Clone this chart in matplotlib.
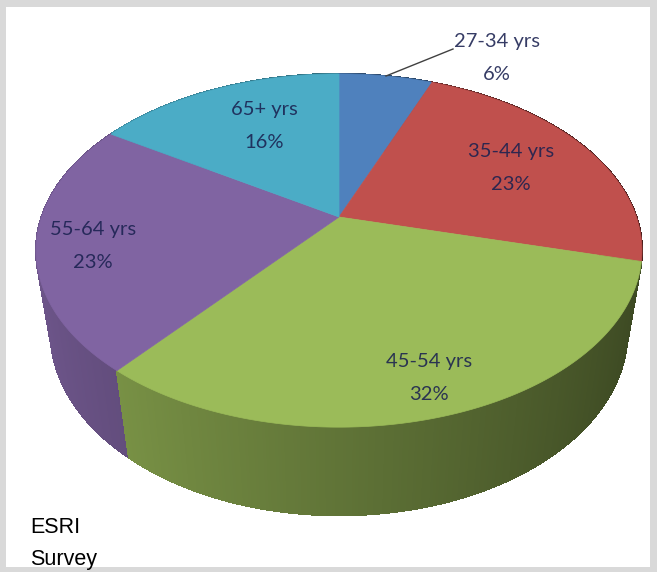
#Carga de paquetes
import numpy as np
import matplotlib.pyplot as plt
from matplotlib.patches import Rectangle, Polygon
from matplotlib.collections import PolyCollection
from matplotlib.colors import to_rgb

#Datos
groups = ["27-34 yrs", "35-44 yrs", "45-54 yrs", "55-64 yrs", "65+ yrs"]
shares = [6, 23, 32, 23, 16]
colors = ["#4F81BD", "#C0504D", "#9BBB59", "#8064A2", "#4BACC6"]

W, H = 657, 572
fig = plt.figure(figsize=(W/100, H/100), dpi=100)
fig.patch.set_facecolor('#d9d9d9')
ax = fig.add_axes([0, 0, 1, 1])
ax.set_xlim(0, W)
ax.set_ylim(H, 0)
ax.axis('off')
ax.add_patch(Rectangle((6, 7), 644, 560, fc='white', ec='none', zorder=0))

# camara en perspectiva (pie 3D tipo Excel)
alpha = np.radians(35.5)
D = 4.29
fx, fy = 1276, 1258
cx, cy = 339, 217
depth = 0.36

def proj(phi, z=0.0):
    X, Y = np.cos(phi), np.sin(phi)
    yc = Y*np.sin(alpha) + z*np.cos(alpha)
    zc = D + Y*np.cos(alpha) - z*np.sin(alpha)
    return cx + fx*X/zc, cy - fy*yc/zc

fr = np.array(shares) / sum(shares)
edges = np.pi/2 - 2*np.pi*np.concatenate([[0], np.cumsum(fr)])

# caras laterales
quads, qcols, keys = [], [], []
for i in range(len(shares)):
    a0, a1 = edges[i], edges[i+1]
    n = max(2, int(abs(a1 - a0) / np.radians(0.5)))
    ph = np.linspace(a0, a1, n + 1)
    base = np.array(to_rgb(colors[i]))
    for a, b in zip(ph[:-1], ph[1:]):
        m = 0.5*(a + b)
        k = 0.62 - 0.24*np.cos(m)
        quads.append([proj(a), proj(b), proj(b, -depth), proj(a, -depth)])
        qcols.append(np.clip(base*k, 0, 1))
        keys.append(np.sin(m))
order = np.argsort(keys)[::-1]
quads = [quads[j] for j in order]
qcols = [qcols[j] for j in order]
ax.add_collection(PolyCollection(quads, facecolors=qcols, edgecolors=qcols,
                                 linewidths=0.8, antialiased=False, zorder=2))

# cara superior
for i in range(len(shares)):
    ph = np.linspace(edges[i], edges[i+1], 200)
    pts = [(cx, cy)] + [proj(p) for p in ph]
    ax.add_patch(Polygon(pts, closed=True, fc=colors[i], ec=colors[i],
                         lw=0.5, zorder=3))

# etiquetas
label_pos = [(497, 42), (511, 152), (429, 361), (93, 230), (264, 109)]
tc = '#1a2150'
for g, s, (x, y) in zip(groups, shares, label_pos):
    ax.text(x, y, g, ha='center', va='center', fontsize=14.5, family='Lato',
            color=tc, alpha=0.88, zorder=5)
    ax.text(x, y + 33, f"{s}%", ha='center', va='center', fontsize=14.5,
            family='Lato', color=tc, alpha=0.88, zorder=5)

# linea guia 27-34
mid = 0.5*(edges[0] + edges[1])
px, py = proj(mid)
ax.plot([px, 453], [py, 49], color='#404040', lw=1.0, zorder=4)

ax.text(30, 533, "ESRI", fontsize=15.5, family='Liberation Sans',
        color='black', va='baseline', zorder=6)
ax.text(30, 565, "Survey", fontsize=15.5, family='Liberation Sans',
        color='black', va='baseline', zorder=6)

fig.savefig("out.png", dpi=100)
